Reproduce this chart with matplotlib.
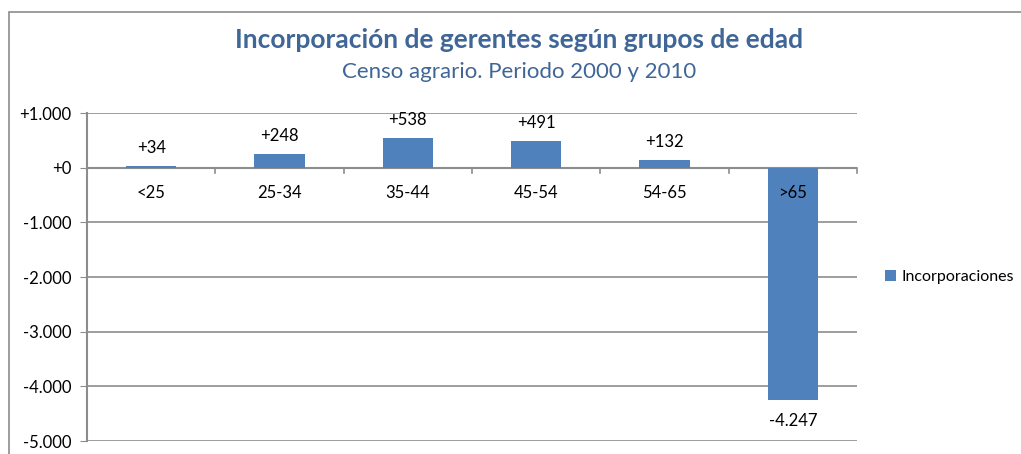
import matplotlib.pyplot as plt
from matplotlib.patches import Rectangle

# datos
grupos = ["<25", "25-34", "35-44", "45-54", "54-65", ">65"]
incorporaciones = [34, 248, 538, 491, 132, -4247]
ticks_y = [1000, 0, -1000, -2000, -3000, -4000, -5000]
etiquetas_y = ["+1.000", "+0", "-1.000", "-2.000", "-3.000", "-4.000", "-5.000"]

plt.rcParams['font.family'] = ['Lato', 'DejaVu Sans']

azul = "#4F81BD"
gris = "#8C8C8C"

fig = plt.figure(figsize=(10.21, 4.54), dpi=100)
W, H = 1021, 454

# marco del gráfico
fig.patches.append(Rectangle((9 / W, -0.1), 1.2, 1 - 12 / H + 0.1, transform=fig.transFigure,
                             fill=False, edgecolor=gris, linewidth=1.2))

ax = fig.add_axes([87 / W, 1 - 441 / H, (857 - 87) / W, (441 - 113) / H])

x = list(range(len(grupos)))
ax.bar(x, incorporaciones, width=0.39, color=azul, label="Incorporaciones", zorder=3)

ax.set_xlim(-0.5, len(grupos) - 0.5)
ax.set_ylim(-5000, 1000)
ax.set_yticks(ticks_y)
ax.set_yticklabels(etiquetas_y, fontsize=12)
ax.tick_params(axis="y", length=5, color=gris, pad=6)
ax.set_xticks([])
ax.grid(axis="y", color=gris, linewidth=1.2, zorder=0)
for s in ["top", "right", "bottom"]:
    ax.spines[s].set_visible(False)
ax.spines["left"].set_color(gris)
ax.spines["left"].set_linewidth(1.5)

# eje en cero con marcas entre categorías
ax.axhline(0, color=gris, linewidth=1.5, zorder=2)
for b in range(1, len(grupos) + 1):
    ax.plot([b - 0.5, b - 0.5], [0, -90], color=gris, linewidth=1.2, zorder=2, clip_on=False)

# etiquetas de categoría y valores
for i, (g, v) in enumerate(zip(grupos, incorporaciones)):
    ax.annotate(g, (i, 0), xytext=(0, -18), textcoords="offset points", ha="center", va="center",
                fontsize=12, zorder=5)
    if v >= 0:
        txt, off = "+%d" % v, 13
    else:
        txt, off = "{:,}".format(v).replace(",", "."), -15
    ax.annotate(txt, (i, v), xytext=(0, off), textcoords="offset points", ha="center", va="center",
                fontsize=12, zorder=5)

fig.text(519 / W, 1 - 40 / H, "Incorporación de gerentes según grupos de edad", ha="center", va="center",
         fontsize=19, fontweight="bold", color="#3F6696")
fig.text(519 / W, 1 - 72 / H, "Censo agrario. Periodo 2000 y 2010", ha="center", va="center",
         fontsize=16, color="#3F6696")

fig.legend(loc="center left", bbox_to_anchor=(882 / W, 1 - 277 / H), frameon=False, fontsize=11.5,
           handlelength=0.7, handleheight=0.7, handletextpad=0.3, borderaxespad=0, borderpad=0.2)

fig.savefig("out.png", dpi=100)
